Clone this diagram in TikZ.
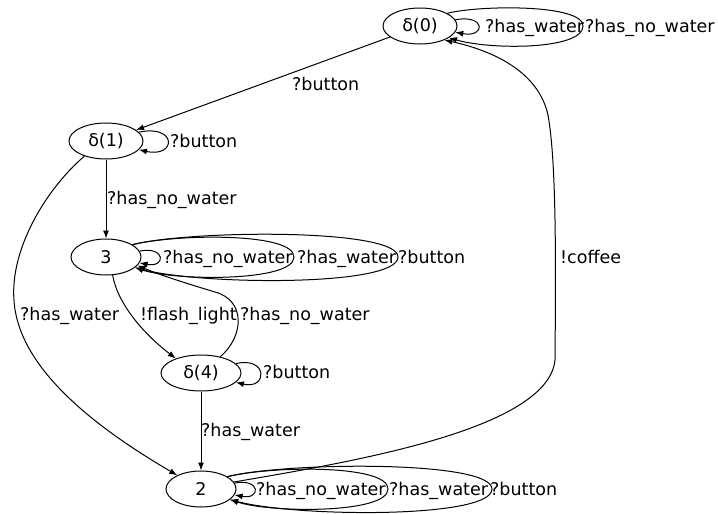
\documentclass[tikz,border=0pt]{standalone}
\usepackage{fontspec}
\setmainfont{DejaVu Sans}
\usetikzlibrary{shapes.geometric,arrows.meta}
\begin{document}
\begin{tikzpicture}[x=1pt,y=-1pt,
  st/.style={draw,ellipse,inner sep=0pt,minimum height=36pt,line width=1pt},
  lbl/.style={anchor=base west,inner sep=0pt},
  arr/.style={draw,line width=1pt,-{Latex[length=8pt,width=6pt]}},
  every node/.style={font=\fontsize{17.5}{20}\selectfont}]
\useasboundingbox (0,0) rectangle (718,514);
% states
\node[st,minimum width=74pt] (n0) at (420,26) {δ(0)};
\node[st,minimum width=74pt] (n1) at (106,141) {δ(1)};
\node[st,minimum width=70pt] (n3) at (106,257) {3};
\node[st,minimum width=80pt] (n4) at (201,373) {δ(4)};
\node[st,minimum width=70pt] (n2) at (201,489) {2};
% labels
\node[lbl] (l01) at (292,90) {?button};
\node[lbl] (l00a) at (485,32) {?has\_water};
\node[lbl] (l00b) at (585,32) {?has\_no\_water};
\node[lbl] (l11) at (170,147) {?button};
\node[lbl] (l13) at (107,204) {?has\_no\_water};
\node[lbl] (l33a) at (163,263) {?has\_no\_water};
\node[lbl] (l33b) at (297,263) {?has\_water};
\node[lbl] (l33c) at (398,263) {?button};
\node[lbl] (l12) at (20,320) {?has\_water};
\node[lbl] (l34) at (140,320) {!flash\_light};
\node[lbl] (l43) at (240,320) {?has\_no\_water};
\node[lbl] (l44) at (263,378) {?button};
\node[lbl] (l42) at (201,436) {?has\_water};
\node[lbl] (l22a) at (256,495) {?has\_no\_water};
\node[lbl] (l22b) at (389,495) {?has\_water};
\node[lbl] (l22c) at (490,495) {?button};
\node[lbl] (l20) at (560,263) {!coffee};
% edges
\draw[arr] (n0) -- (n1);
\draw[arr] (n0.10) .. controls (486,14) and (486,38) .. (n0.-10);
\draw[arr] (n0.25) .. controls (480,5) and (583,4) .. (583,26) .. controls (583,50) and (490,50) .. (n0.-22);
\draw[arr] (n1.15) .. controls (177,124) and (177,158) .. (n1.-15);
\draw[arr] (n1) -- (n3);
\draw[arr] (n1.215) .. controls (45,190) and (10,250) .. (14,300) .. controls (18,370) and (100,430) .. (n2.150);
\draw[arr] (n3.10) .. controls (166,246) and (166,268) .. (n3.-10);
\draw[arr] (n3.25) .. controls (175,234) and (294,232) .. (294,257) .. controls (294,282) and (175,281) .. (n3.-20);
\draw[arr] (n3.25) .. controls (190,230) and (398,228) .. (398,257) .. controls (398,287) and (200,285) .. (n3.-20);
\draw[arr] (n3.-70) .. controls (118,305) and (145,335) .. (n4.150);
\draw[arr] (n4.40) .. controls (245,335) and (245,300) .. (215,292) .. controls (185,283) and (160,275) .. (n3.-15);
\draw[arr] (n4.15) .. controls (268,356) and (268,390) .. (n4.-15);
\draw[arr] (n4) -- (n2);
\draw[arr] (n2.10) .. controls (261,478) and (261,500) .. (n2.-10);
\draw[arr] (n2.25) .. controls (270,466) and (388,464) .. (388,489) .. controls (388,514) and (270,513) .. (n2.-20);
\draw[arr] (n2.25) .. controls (285,462) and (492,460) .. (492,489) .. controls (492,519) and (295,517) .. (n2.-20);
\draw[arr] (n2.12) .. controls (350,462) and (548,430) .. (555,360) .. controls (556,250) and (556,160) .. (548,115) .. controls (538,70) and (490,50) .. (n0.-30);
\end{tikzpicture}
\end{document}
